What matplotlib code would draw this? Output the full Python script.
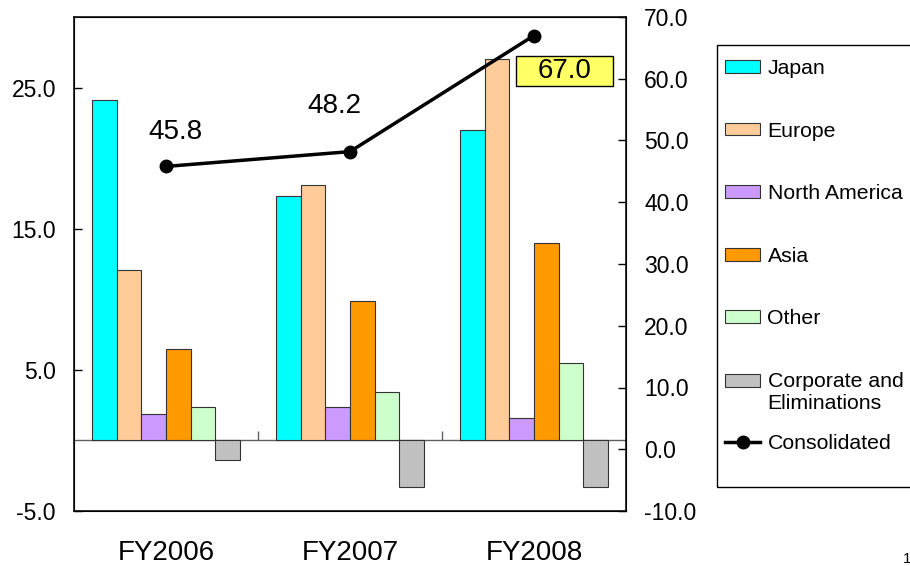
import numpy as np
import matplotlib
matplotlib.use('Agg')
import matplotlib.pyplot as plt
from matplotlib.patches import Rectangle, Patch
from matplotlib.lines import Line2D
from matplotlib.path import Path
from matplotlib.legend_handler import HandlerPatch

plt.rcParams['font.family'] = ['Liberation Sans', 'DejaVu Sans']

# ---------------- data ----------------
years = ['FY2006', 'FY2007', 'FY2008']
segments = ['Japan', 'Europe', 'North America', 'Asia', 'Other',
            'Corporate and\nEliminations']
japan = [24.1, 17.3, 22.0]
europe = [12.1, 18.1, 27.0]
north_america = [1.9, 2.4, 1.6]
asia = [6.5, 9.9, 14.0]
other = [2.4, 3.4, 5.5]
corporate = [-1.4, -3.3, -3.3]
consolidated = [45.8, 48.2, 67.0]
consolidated_label = 'Consolidated'
left_ticks = [-5.0, 5.0, 15.0, 25.0]
right_ticks = [-10.0, 0.0, 10.0, 20.0, 30.0, 40.0, 50.0, 60.0, 70.0]

colors = ['#00FFFF', '#FFCC99', '#CC99FF', '#FF9900', '#CCFFCC', '#C0C0C0']
series = [japan, europe, north_america, asia, other, corporate]

W, H = 910, 566
fig = plt.figure(figsize=(W / 100, H / 100), dpi=100)
ax = fig.add_axes([74 / W, 55 / H, (626 - 74) / W, (511 - 17) / H])

x = np.arange(len(years))
n = len(series)
bw = 0.8 / n
edge = '#333333'
for i, (vals, c, lab) in enumerate(zip(series, colors, segments)):
    ax.bar(x + (i - (n - 1) / 2) * bw, vals, bw, color=c, edgecolor=edge,
           linewidth=0.8, label=lab, zorder=3)

ax.set_xlim(-0.5, len(years) - 0.5)
ax.set_ylim(-5, 30)
ax.set_yticks(left_ticks)
ax.set_yticklabels([f'{t:.1f}' for t in left_ticks])
ax.axhline(0, color='#606060', lw=1, zorder=2)
ax.vlines(x[:-1] + 0.5, 0, 0.7, color='#606060', lw=1, zorder=2)
ax.set_xticks(x)
ax.set_xticklabels(years, fontsize=20)
ax.tick_params(axis='x', length=0, pad=21)
ax.tick_params(axis='y', direction='in', length=6, width=1, labelsize=16.5,
               pad=13)
for s in ax.spines.values():
    s.set_linewidth(1.1)
    s.set_color('black')

ax2 = ax.twinx()
ax2.set_ylim(-10, 70)
ax2.set_yticks(right_ticks)
ax2.set_yticklabels([f'{t:.1f}' for t in right_ticks])
ax2.tick_params(axis='y', direction='in', length=6, width=1, labelsize=16.5,
                pad=13)
ax2.plot(x, consolidated, color='black', lw=2.5, marker='o', ms=9, zorder=5,
         label=consolidated_label)


def wide_box(x0, y0, width, height, mutation_size):
    padx = 0.77 * mutation_size
    pady = 0.07 * mutation_size
    x0, y0 = x0 - padx, y0 - pady
    x1, y1 = x0 + width + 2 * padx, y0 + height + 2 * pady
    return Path([(x0, y0), (x1, y0), (x1, y1), (x0, y1), (x0, y0)], closed=True)


offsets = [(6.5, 24.5), (-11, 33), (22, -25.5)]
for i, (v, off) in enumerate(zip(consolidated, offsets)):
    kw = {}
    if i == len(consolidated) - 1:
        kw['bbox'] = dict(boxstyle=wide_box, facecolor='#FFFF66',
                          edgecolor='black', lw=1)
    ax2.annotate(f'{v:.1f}', xy=(x[i], v), xytext=off,
                 textcoords='offset points', ha='center', va='center',
                 fontsize=20, zorder=6, **kw)

# ---------------- legend ----------------
proxies = [Patch(facecolor=c, edgecolor=edge, lw=0.8) for c in colors]


def shifted_patch(legend, orig_handle, xdescent, ydescent, width, height,
                  fontsize):
    return Rectangle((-xdescent, -ydescent + 0.55 * fontsize), width, height)


fs = 15.3
common = dict(loc='upper left', frameon=False, fontsize=fs, handlelength=1.65,
              handleheight=0.55, handletextpad=0.35, borderpad=0,
              borderaxespad=0)
fig.legend(handles=proxies, labels=segments,
           bbox_to_anchor=(725 / W, 1 - 59 / H), labelspacing=2.05,
           handler_map={proxies[-1]: HandlerPatch(patch_func=shifted_patch)},
           **common)
line_proxy = Line2D([], [], color='black', lw=2.5, marker='o', ms=9)
fig.legend(handles=[line_proxy], labels=[consolidated_label],
           bbox_to_anchor=(725 / W, 1 - 434 / H), **common)
fig.add_artist(Rectangle((717 / W, 79 / H), 200 / W, 442 / H,
                         transform=fig.transFigure, fill=False,
                         edgecolor='black', lw=1))

fig.text(903 / W, 0, '1', fontsize=11, ha='left', va='bottom')

fig.savefig('out.png', dpi=100)
